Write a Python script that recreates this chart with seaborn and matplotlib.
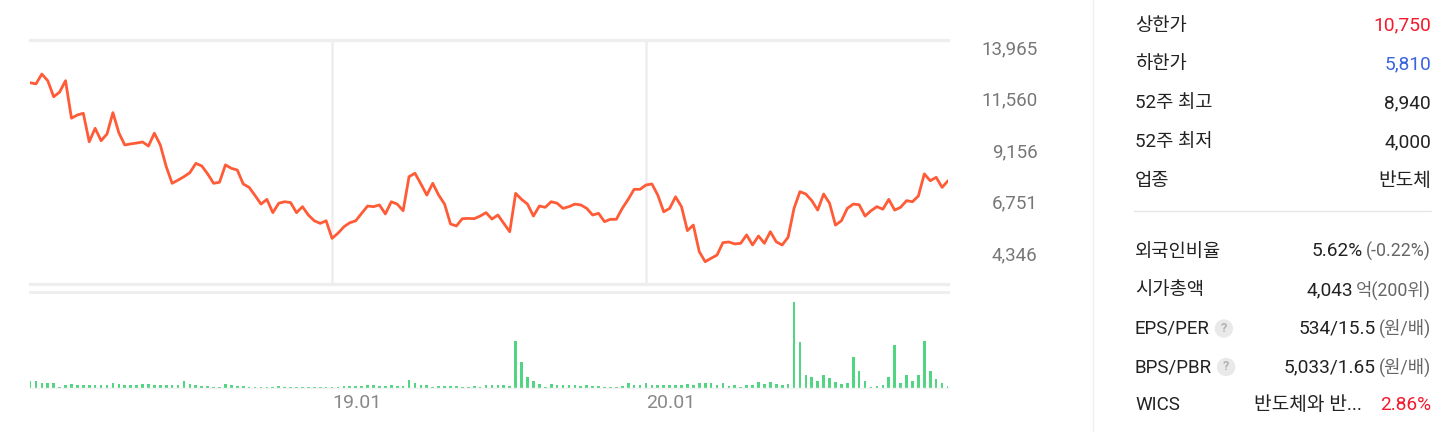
import numpy as np
import pandas as pd
import matplotlib
matplotlib.use('Agg')
import matplotlib.pyplot as plt
from matplotlib.lines import Line2D
from matplotlib.patches import Ellipse
import seaborn as sns

# weekly close prices (KRW)
close = [12300, 12240, 12700, 12390, 11640, 11860, 12390, 10640, 10790, 10870,
         9540, 10170, 9590, 9900, 10900, 9960, 9390, 9440, 9480, 9530,
         9340, 9940, 9390, 8380, 7600, 7750, 7910, 8100, 8530, 8410,
         8040, 7600, 7650, 8460, 8300, 8220, 7570, 7410, 7030, 6630,
         6850, 6230, 6670, 6740, 6700, 6230, 6510, 6120, 5850, 5730,
         5850, 5030, 5270, 5570, 5760, 5850, 6200, 6540, 6510, 6590,
         6170, 6740, 6630, 6320, 7910, 8070, 7570, 7050, 7600, 7050,
         6630, 5700, 5610, 5950, 5960, 5950, 6070, 6230, 5930, 6120,
         5730, 5340, 7130, 6850, 6630, 6070, 6540, 6480, 6740, 6670,
         6430, 6510, 6630, 6590, 6430, 6120, 6200, 5810, 5920, 5920,
         6430, 6850, 7320, 7320, 7520, 7570, 7050, 6270, 6430, 6970,
         6510, 5390, 5650, 4410, 3940, 4100, 4250, 4830, 4860, 4770,
         4800, 5190, 4720, 5140, 4800, 5340, 4870, 4720, 5080, 6430,
         7210, 7100, 6790, 6350, 7100, 6670, 5650, 5850, 6430, 6630,
         6600, 6070, 6320, 6510, 6390, 6850, 6350, 6480, 6790, 6740,
         7010, 8040, 7720, 7880, 7410, 7720]

# weekly volume (relative units)
volume = [6.7, 6.7, 5.3, 5.3, 5.3, 1.3, 2.7, 4.0, 2.7, 2.7,
          2.7, 2.7, 2.7, 2.7, 5.3, 4.0, 2.7, 2.7, 2.7, 4.0,
          4.0, 2.7, 2.7, 3.3, 2.7, 3.3, 6.7, 4.0, 2.7, 2.0,
          2.0, 1.3, 1.3, 4.0, 3.3, 2.0, 2.0, 0.7, 0.7, 1.3,
          1.3, 1.3, 2.0, 1.3, 1.3, 1.3, 1.3, 1.3, 1.3, 1.3,
          0.7, 1.3, 1.3, 2.0, 2.0, 2.0, 2.0, 3.3, 2.7, 2.0,
          2.0, 2.7, 2.0, 2.0, 8.0, 5.3, 2.7, 2.7, 1.3, 2.0,
          2.0, 2.0, 2.0, 1.3, 1.3, 2.0, 1.3, 3.3, 2.7, 2.7,
          2.7, 2.0, 46.7, 26.0, 10.7, 6.7, 4.0, 1.3, 4.0, 2.7,
          3.3, 2.7, 2.7, 2.0, 2.7, 2.0, 2.0, 1.3, 0.7, 0.7,
          2.0, 4.7, 2.7, 2.7, 4.7, 3.3, 2.7, 2.7, 2.7, 2.7,
          2.7, 4.0, 2.7, 4.7, 4.7, 4.7, 2.7, 4.7, 2.0, 3.3,
          0.7, 2.7, 2.7, 6.0, 4.0, 6.0, 4.0, 3.3, 4.0, 86.0,
          46.0, 12.7, 11.3, 7.3, 13.3, 10.0, 6.0, 4.0, 5.3, 30.7,
          16.7, 6.7, 0.7, 2.0, 3.3, 11.3, 42.7, 4.7, 12.7, 6.7,
          12.7, 47.3, 16.7, 8.7, 5.3, 2.0]

year_tick_pos = [51, 104]
year_tick_labels = ['19.01', '20.01']
price_ticks = [13965, 11560, 9156, 6751, 4346]
price_tick_labels = ['13,965', '11,560', '9,156', '6,751', '4,346']

info_labels = ['상한가', '하한가', '52주 최고', '52주 최저', '업종']
info_values = ['10,750', '5,810', '8,940', '4,000', '반도체']
info_colors = ['#f5192b', '#3a64e0', '#222222', '#222222', '#222222']

fin_labels = ['외국인비율', '시가총액', 'EPS/PER', 'BPS/PBR', 'WICS']
fin_values = ['5.62%', '4,043', '534/15.5', '5,033/1.65', '반도체와 반...']
fin_suffix = ['(-0.22%)', '억(200위)', '(원/배)', '(원/배)', '2.86%']
fin_suffix_colors = ['#666666', '#666666', '#666666', '#666666', '#f5192b']
fin_help = [False, False, True, True, False]

df = pd.DataFrame({'week': np.arange(len(close)), 'close': close, 'volume': volume})

sns.set_theme(style='white')
plt.rcParams['font.family'] = ['Roboto', 'Noto Sans CJK KR', 'DejaVu Sans']

W, H = 1451, 432
fig = plt.figure(figsize=(W / 100, H / 100), dpi=100)


def px_axes(x0, y0, x1, y1):
    return fig.add_axes([x0 / W, 1 - y1 / H, (x1 - x0) / W, (y1 - y0) / H])


grid_c = '#eeeeee'

# price chart
ax = px_axes(30, 40, 948, 284)
for p in year_tick_pos:
    ax.axvline(p, color=grid_c, lw=1.8, zorder=0)
sns.lineplot(data=df, x='week', y='close', ax=ax, color='#ff5b36', lw=2.0)
ax.set_xlim(0, len(close) - 1)
ax.set_ylim(2899, 14291)
for s in ['left', 'right']:
    ax.spines[s].set_visible(False)
for s in ['top', 'bottom']:
    ax.spines[s].set_color(grid_c)
    ax.spines[s].set_linewidth(2.4)
ax.set_xticks([])
ax.set_xlabel('')
ax.set_ylabel('')
ax.yaxis.tick_right()
ax.set_yticks(price_ticks)
ax.set_yticklabels(price_tick_labels)
for lab in ax.get_yticklabels():
    lab.set_ha('right')
ax.tick_params(axis='y', length=0, pad=64.5, labelsize=13.5, labelcolor='#777777')

# volume chart
axv = px_axes(30, 292, 948, 388)
sns.barplot(data=df, x='week', y='volume', ax=axv, native_scale=True,
            color='#52d583', saturation=1, width=0.45, linewidth=0)
axv.set_xlim(0, len(close) - 1)
axv.set_ylim(0, 96)
for s in ['left', 'right']:
    axv.spines[s].set_visible(False)
axv.spines['top'].set_color(grid_c)
axv.spines['top'].set_linewidth(2.0)
axv.spines['bottom'].set_color('#f3f3f3')
axv.spines['bottom'].set_linewidth(1.0)
axv.set_yticks([])
axv.set_xlabel('')
axv.set_ylabel('')
axv.set_xticks(year_tick_pos)
axv.set_xticklabels(year_tick_labels)
for lab in axv.get_xticklabels():
    lab.set_ha('left')
axv.tick_params(axis='x', length=0, pad=4, labelsize=14, labelcolor='#888888')

# panel separator
fig.add_artist(Line2D([1093 / W, 1093 / W], [0, 1], color='#f0f0f0', lw=1))
fig.add_artist(Line2D([1134 / W, 1431 / W], [1 - 211 / H, 1 - 211 / H],
                      color='#e6e6e6', lw=1))

fs_lab = 13.5
fs_val = 13.8
for i, (lab, val, col) in enumerate(zip(info_labels, info_values, info_colors)):
    y = 1 - (25.5 + i * 38.8) / H
    fig.text(1135 / W, y, lab, ha='left', va='center', fontsize=fs_lab, color='#222222')
    fig.text(1431 / W, y, val, ha='right', va='center', fontsize=fs_val, color=col)

fig.canvas.draw()
renderer = fig.canvas.get_renderer()
for i in range(len(fin_labels)):
    y = 1 - (251.5 + i * 38.5) / H
    t = fig.text(1135 / W, y, fin_labels[i], ha='left', va='center', fontsize=fs_lab,
                 color='#222222')
    gray = fin_suffix_colors[i] == '#666666'
    suf = fig.text(1431 / W, y, fin_suffix[i], ha='right', va='center',
                   fontsize=12.8 if gray else fs_val,
                   color=fin_suffix_colors[i])
    bb = suf.get_window_extent(renderer)
    gap = 18 if i == 4 else 3
    fig.text((bb.x0 - gap) / W, y, fin_values[i], ha='right', va='center',
             fontsize=fs_val, color='#222222')
    if fin_help[i]:
        tb = t.get_window_extent(renderer)
        cx = tb.x1 + 14
        cy = (1 - y) * H
        fig.add_artist(Ellipse((cx / W, 1 - cy / H), 17 / W, 17 / H,
                               transform=fig.transFigure, color='#e9e9e9'))
        fig.text(cx / W, 1 - cy / H, '?', ha='center', va='center', fontsize=9,
                 color='#b0b0b0', fontweight='bold')

fig.savefig('out.png', dpi=100)
